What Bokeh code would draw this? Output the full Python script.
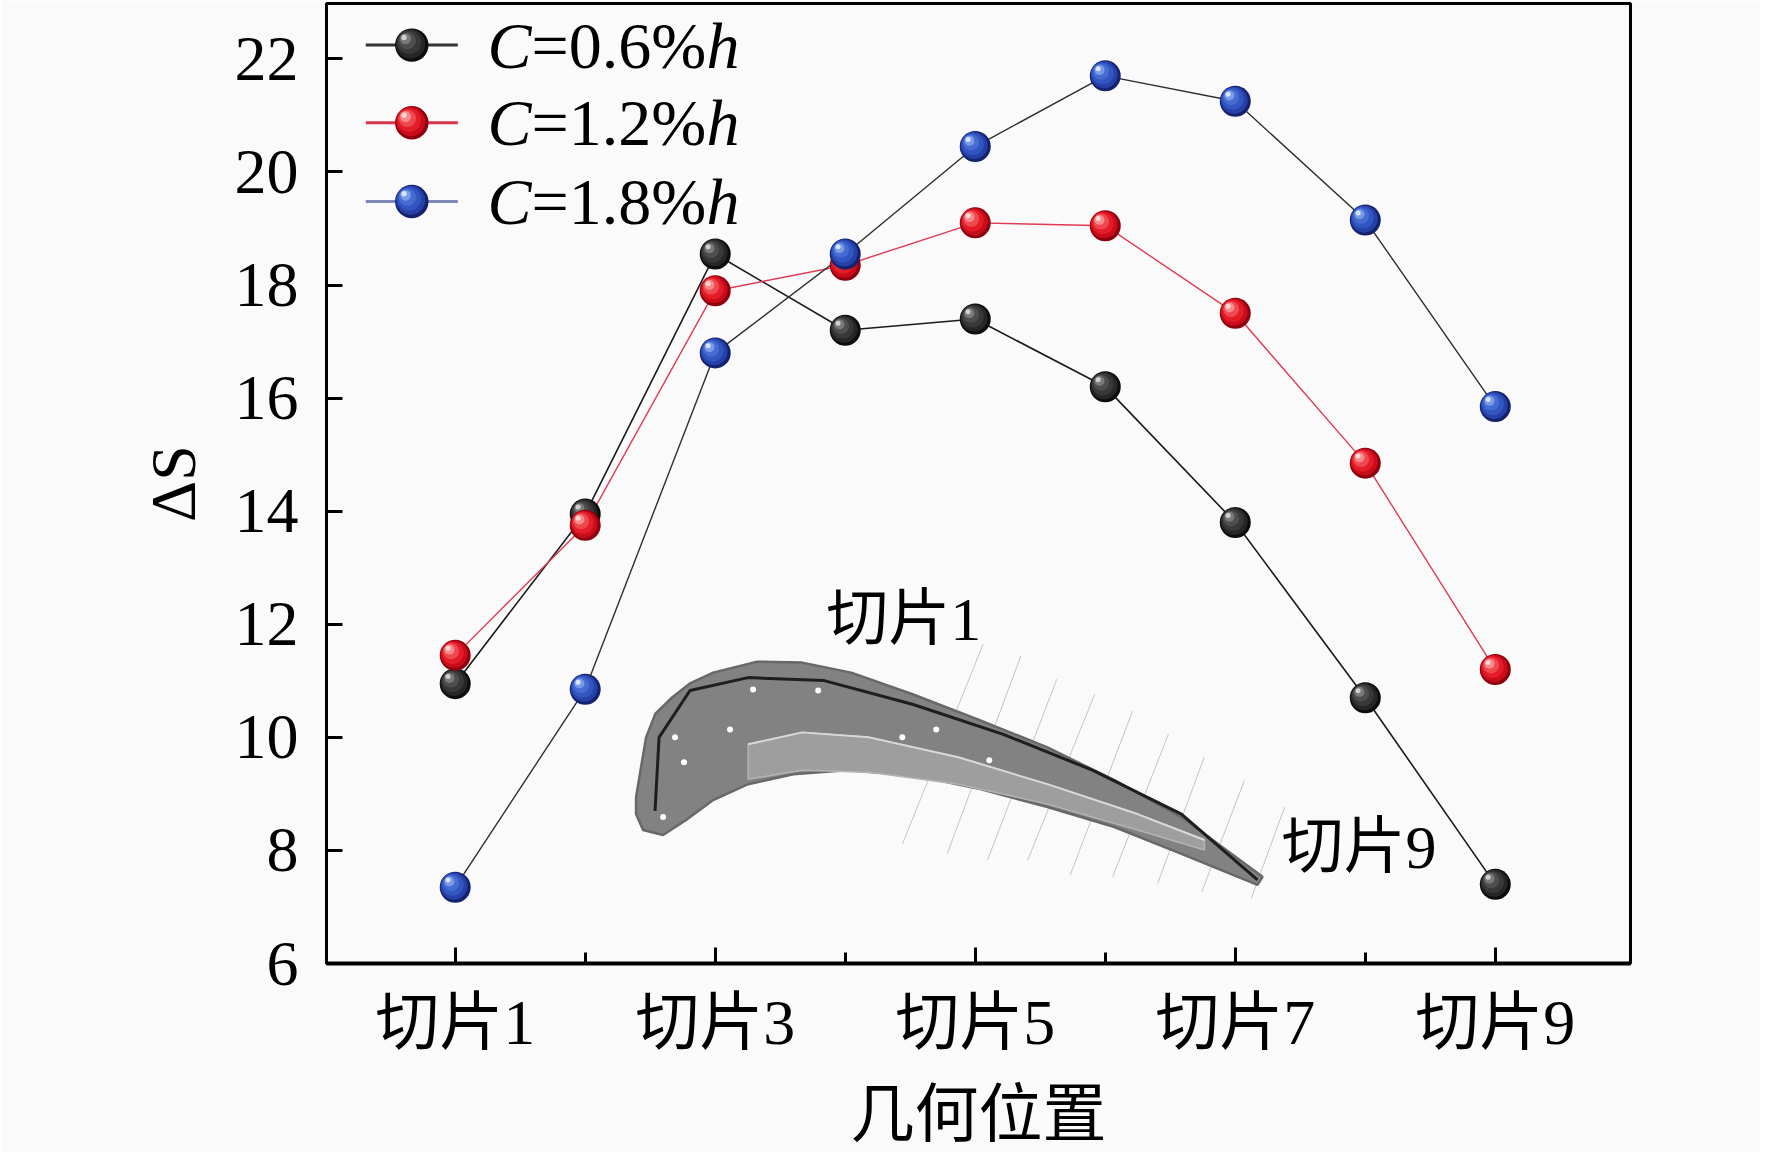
from bokeh.plotting import figure
from bokeh.models import FixedTicker, Range1d
from bokeh.core.properties import value
from bokeh.embed import file_html
from bokeh.resources import INLINE

# data
slices = ["切片1", "切片2", "切片3", "切片4", "切片5", "切片6", "切片7", "切片8", "切片9"]
ds_06 = [10.95, 13.95, 18.55, 17.2, 17.4, 16.2, 13.8, 10.7, 7.4]
ds_12 = [11.45, 13.75, 17.9, 18.35, 19.1, 19.05, 17.5, 14.85, 11.2]
ds_18 = [7.35, 10.85, 16.8, 18.55, 20.45, 21.7, 21.25, 19.15, 15.85]
legend_values = ["0.6", "1.2", "1.8"]
y_ticks = [6, 8, 10, 12, 14, 16, 18, 20, 22]

SERIF = "'Liberation Serif', 'Noto Sans CJK SC'"
BG = "#fafafa"

x0, x1 = 0.01, 10.04
y0, y1 = 6, 22.98
W, H = 1760, 1152
ML, MR, MT, MB = 326, 130, 3, 185
px_x = (W - ML - MR) / (x1 - x0)
px_y = (H - MT - MB) / (y1 - y0)

p = figure(width=W, height=H, x_range=Range1d(x0, x1), y_range=Range1d(y0, y1),
           output_backend="svg", toolbar_location=None,
           min_border_left=ML, min_border_right=MR, min_border_top=MT, min_border_bottom=MB)
p.background_fill_color = BG
p.border_fill_color = BG
p.grid.grid_line_color = None
p.outline_line_color = "black"
p.outline_line_width = 3

pos = list(range(1, len(slices) + 1))
p.xaxis.ticker = FixedTicker(ticks=pos[::2], minor_ticks=pos[1::2])
p.xaxis.major_label_overrides = {i: slices[i - 1] for i in pos[::2]}
p.yaxis.ticker = FixedTicker(ticks=y_ticks, minor_ticks=[])
for ax in (p.xaxis, p.yaxis):
    ax.major_tick_in = 16
    ax.major_tick_out = 0
    ax.minor_tick_in = 11
    ax.minor_tick_out = 0
    ax.major_tick_line_width = 3
    ax.minor_tick_line_width = 3
    ax.axis_line_width = 3
    ax.major_label_text_font = SERIF
    ax.major_label_text_font_size = "64px"
    ax.major_label_text_color = "black"
    ax.axis_label_text_font = SERIF
    ax.axis_label_text_font_size = "64px"
    ax.axis_label_text_font_style = "normal"
    ax.axis_label_text_color = "black"
p.xaxis.axis_line_width = 4
p.xaxis.major_label_standoff = 23
p.yaxis.major_label_standoff = 28
p.yaxis.minor_tick_line_color = None
p.xaxis.axis_label = "几何位置"
p.xaxis.axis_label_standoff = 18
p.yaxis.axis_label = "ΔS"
p.yaxis.axis_label_standoff = 23

# blade sketch (illustration only)
cut_top_x = [5.06, 5.351, 5.627, 5.919, 6.211, 6.486, 6.761, 7.07, 7.38]
cut_top_y = [11.644, 11.44, 11.027, 10.763, 10.47, 10.058, 9.648, 9.237, 8.767]
cut_bot_x = [4.441, 4.785, 5.094, 5.403, 5.73, 6.057, 6.403, 6.743, 7.123]
cut_bot_y = [8.12, 7.944, 7.827, 7.827, 7.563, 7.533, 7.415, 7.269, 7.151]
p.segment(cut_top_x, cut_top_y, cut_bot_x, cut_bot_y, line_color="#c4c4c4", line_width=1)

blade_x = [2.391, 2.468, 2.54, 2.668, 2.81, 2.984, 3.322, 3.669, 4.046, 4.523, 5.039, 5.555, 6.07, 6.586,
           7.21, 7.171, 6.586, 6.07, 5.555, 5.039, 4.523, 4.007, 3.6, 3.253, 2.984, 2.776, 2.599, 2.445,
           2.391]
blade_y = [8.943, 10.0, 10.42, 10.705, 10.96, 11.145, 11.339, 11.322, 11.145, 10.758, 10.3, 9.824, 9.242,
           8.59, 7.533, 7.392, 7.938, 8.414, 8.767, 9.084, 9.33, 9.419, 9.348, 9.172, 8.89, 8.537, 8.273,
           8.361, 8.643]
p.patch(blade_x, blade_y, fill_color="#828282", line_color="#686868", line_width=2.5)
band_x = [3.253, 3.669, 4.184, 4.87, 5.555, 6.248, 6.763, 6.763, 6.248, 5.555, 4.87, 4.184, 3.669, 3.253]
band_y = [9.877, 10.088, 10.0, 9.648, 9.172, 8.643, 8.185, 8.009, 8.361, 8.819, 9.172, 9.383, 9.418, 9.26]
p.patch(band_x, band_y, fill_color="#9e9e9e", line_color="#b4b4b4", line_width=1.5)
p.line(band_x[:7], band_y[:7], line_color="#d8d8d8", line_width=2)
rib_x = [2.537, 2.568, 2.806, 3.253, 3.838, 4.523, 5.216, 5.901, 6.586, 7.171]
rib_y = [8.7, 10.0, 10.828, 11.057, 11.004, 10.581, 10.053, 9.419, 8.643, 7.48]
p.line(rib_x, rib_y, line_color="#1e1e1e", line_width=3)
hole_x = [3.291, 3.792, 2.691, 3.114, 2.76, 4.439, 4.7, 5.108, 2.599]
hole_y = [10.846, 10.828, 10.0, 10.141, 9.56, 10.0, 10.141, 9.595, 8.59]
p.scatter(hole_x, hole_y, size=6, fill_color="white", line_color=None)

p.text([3.853], [12.09], text=[slices[0]], text_font=value(SERIF), text_font_size="62px",
       text_baseline="middle", text_align="left", text_color="black")
p.text([7.356], [8.06], text=[slices[-1]], text_font=value(SERIF), text_font_size="62px",
       text_baseline="middle", text_align="left", text_color="black")

series = [
    (ds_06, "#1a1a1a", 1.6, ["#0c0c0c", "#262626", "#383838", "#4e4e4e", "#7a7a7a", "#cfcfcf"]),
    (ds_12, "#e03a55", 1.4, ["#8e000e", "#c80c1a", "#e41c28", "#ee4850", "#f58a8a", "#ffd6d6"]),
    (ds_18, "#2e2e2e", 1.4, ["#14226e", "#2640a8", "#3156c2", "#466cd2", "#7a9ce6", "#d6e4ff"]),
]
sizes = [31, 27, 22, 16, 10, 5]


def sphere(xs, ys, colors, scale=1.0):
    for s, c in zip(sizes, colors):
        shift = (sizes[0] - s) / 2 * 0.55 * scale
        p.scatter([x - shift / px_x for x in xs], [y + shift / px_y for y in ys],
                  size=s * scale, fill_color=c, line_color=None)


for ys, lc, lw, _ in series:
    p.line(pos, ys, line_color=lc, line_width=lw)
for ys, lc, lw, cols in series:
    sphere(pos, ys, cols)

# legend
leg_rows = [22.244, 20.87, 19.478]
leg_line_colors = ["#333333", "#d8344c", "#7f86b8"]
for (ys, lc, lw, cols), ly, llc, lv in zip(series, leg_rows, leg_line_colors, legend_values):
    p.line([0.312, 1.02], [ly, ly], line_color=llc, line_width=3)
    sphere([0.666], [ly], cols, scale=1.08)
    for txt, style, off in (("C", "italic", 0), ("=" + lv + "%", "normal", 44), ("h", "italic", 219)):
        p.text([1.249], [ly], text=[txt], x_offset=off, text_font=value(SERIF), text_font_size="66px",
               text_font_style=style, text_baseline="middle", text_align="left", text_color="black")

open("out.html", "w").write(file_html(p, INLINE))
